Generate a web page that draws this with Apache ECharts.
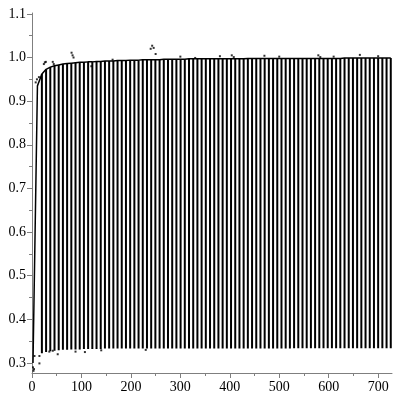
<!DOCTYPE html>
<html><head><meta charset="utf-8">
<script src="https://cdn.jsdelivr.net/npm/echarts@6/dist/echarts.min.js"></script>
<style>html,body{margin:0;padding:0;background:#fff}#c{width:400px;height:400px}</style>
</head><body><div id="c"></div>
<script>
// Bar (oscillation) positions along x
const barX = [20,28.5,37,45.5,54,62.5,71,79.5,88,96.5,105,113.5,122,130.5,139,147.5,156,164.5,173,181.5,190,198.5,207,215.5,224,232.5,241,249.5,258,266.5,275,283.5,292,300.5,309,317.5,326,334.5,343,351.5,360,368.5,377,385.5,394,402.5,411,419.5,428,436.5,445,453.5,462,470.5,479,487.5,496,504.5,513,521.5,530,538.5,547,555.5,564,572.5,581,589.5,598,606.5,615,623.5,632,640.5,649,657.5,666,674.5,683,691.5,700,708.5,717,725.5];
// Upper values (envelope) for each bar
const barTop = [0.962,0.973,0.978,0.981,0.983,0.985,0.986,0.987,0.988,0.989,0.989,0.990,0.990,0.991,0.991,0.992,0.992,0.992,0.993,0.993,0.993,0.994,0.994,0.994,0.995,0.995,0.995,0.995,0.995,0.996,0.996,0.996,0.996,0.996,0.996,0.997,0.997,0.997,0.997,0.997,0.997,0.997,0.997,0.997,0.997,0.997,0.997,0.997,0.997,0.998,0.998,0.998,0.998,0.998,0.998,0.998,0.998,0.998,0.998,0.998,0.998,0.998,0.998,0.998,0.998,0.998,0.998,0.998,0.998,0.998,0.998,0.998,0.999,0.999,0.999,0.999,0.999,0.999,0.999,0.999,0.999,0.999,0.999,0.999];
// Lower values for each bar
const barBottom = [0.322,0.325,0.327,0.328,0.329,0.330,0.330,0.331,0.331,0.331,0.332,0.332,0.332,0.332,0.332,0.333,0.333,0.333,0.333,0.333,0.333,0.333,0.333,0.333,0.333,0.333,0.333,0.333,0.333,0.333,0.333,0.333,0.333,0.333,0.333,0.333,0.333,0.333,0.333,0.333,0.333,0.333,0.333,0.333,0.333,0.333,0.333,0.333,0.333,0.333,0.333,0.333,0.333,0.333,0.333,0.333,0.333,0.333,0.333,0.333,0.334,0.334,0.334,0.334,0.334,0.334,0.334,0.334,0.334,0.334,0.334,0.334,0.334,0.334,0.334,0.334,0.334,0.334,0.334,0.334,0.334,0.334,0.334,0.334];
// Initial rise of the curve
const riseX = [2, 11];
const riseY = [0.30, 0.935];
// Scattered observation dots
const dotX = [2,3,4,5,7.5,10,14,15,15,24,26,28,35,42,42,44,52,80,82,84,88,107,120,140,163,230,240,243,246,250,300,330,380,404,408,470,500,579,583,610,663,700];
const dotY = [0.29,0.282,0.286,0.316,0.943,0.95,0.955,0.316,0.299,0.985,0.989,0.99,0.326,0.99,0.328,0.985,0.32,1.011,1.005,1.0,0.326,0.325,0.98,0.329,0.995,0.33,1.02,1.027,1.022,1.008,1.002,0.999,1.003,1.005,1.001,1.004,1.002,1.005,1.001,1.002,1.006,1.003];
// Axis ticks
const xTicks = [0,100,200,300,400,500,600,700];
const xMinor = [50,150,250,350,450,550,650];
const yTicks = [0.3,0.4,0.5,0.6,0.7,0.8,0.9,1.0,1.1];
const yMinor = [0.35,0.45,0.55,0.65,0.75,0.85,0.95,1.05];

const X_MIN = 0, X_MAX = 728, Y_MIN = 0.277, Y_MAX = 1.102;

const lineData = riseX.map((x,i)=>[x,riseY[i]]).concat(barX.map((x,i)=>[x,barTop[i]]));
const barData = barX.map((x,i)=>[x,barBottom[i],barTop[i]]);
const dotData = dotX.map((x,i)=>[x,dotY[i]]);

const axisCol = '#7f7f7f';
const font = {fontFamily:'Liberation Serif', fontSize:14, color:'#000'};

const chart = echarts.init(document.getElementById('c'), null, {renderer:'canvas'});
chart.setOption({
  animation:false,
  grid:{left:32, right:8, top:13, bottom:27},
  xAxis:[{
    type:'value', min:X_MIN, max:X_MAX,
    axisLine:{onZero:false, lineStyle:{color:axisCol}},
    axisTick:{customValues:xTicks, length:5, lineStyle:{color:axisCol}},
    axisLabel:Object.assign({customValues:xTicks, margin:7}, font),
    splitLine:{show:false}
  },{
    type:'value', min:X_MIN, max:X_MAX, position:'bottom', gridIndex:0,
    axisLine:{show:false},
    axisTick:{customValues:xMinor, length:3, lineStyle:{color:axisCol}},
    axisLabel:{show:false}, splitLine:{show:false}
  }],
  yAxis:[{
    type:'value', min:Y_MIN, max:Y_MAX,
    axisLine:{show:true, onZero:false, lineStyle:{color:axisCol}},
    axisTick:{show:true, customValues:yTicks, length:5, lineStyle:{color:axisCol}},
    axisLabel:Object.assign({customValues:yTicks, margin:6, formatter:v=>v.toFixed(1)}, font),
    splitLine:{show:false}
  },{
    type:'value', min:Y_MIN, max:Y_MAX, position:'left',
    axisLine:{show:false},
    axisTick:{show:true, customValues:yMinor, length:3, lineStyle:{color:axisCol}},
    axisLabel:{show:false}, splitLine:{show:false}
  }],
  series:[{
    type:'custom', xAxisIndex:0, yAxisIndex:0,
    data:barData,
    renderItem:(params, api)=>{
      const p1 = api.coord([api.value(0), api.value(2)]);
      const p0 = api.coord([api.value(0), api.value(1)]);
      return {type:'rect', shape:{x:p1[0]-1, y:p1[1], width:2, height:p0[1]-p1[1]}, style:{fill:'#000'}};
    }
  },{
    type:'line', xAxisIndex:0, yAxisIndex:0, data:lineData, showSymbol:false, smooth:false,
    lineStyle:{color:'#000', width:1.5}
  },{
    type:'scatter', xAxisIndex:0, yAxisIndex:0, data:dotData, symbol:'rect', symbolSize:2,
    itemStyle:{color:'#000'}
  }]
});
</script></body></html>
